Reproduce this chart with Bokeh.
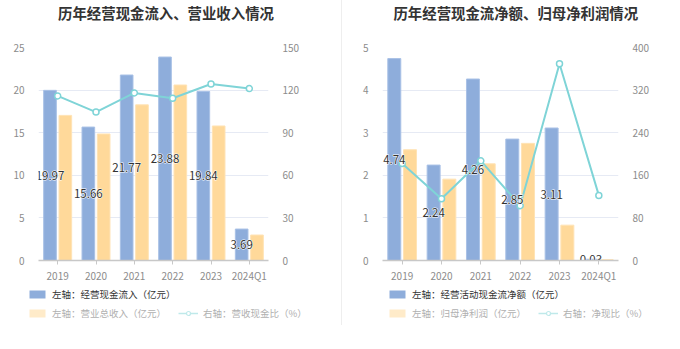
from bokeh.plotting import figure
from bokeh.models import (ColumnDataSource, FactorRange, Range1d, LinearAxis, Legend,
                          LegendItem, Div, FixedTicker, Label)
from bokeh.transform import dodge
from bokeh.layouts import row, column
from bokeh.core.properties import value
from bokeh.embed import file_html
from bokeh.resources import INLINE

periods = ["2019", "2020", "2021", "2022", "2023", "2024Q1"]

# left chart
cash_inflow = [19.97, 15.66, 21.77, 23.88, 19.84, 3.69]
total_revenue = [17.03, 14.85, 18.27, 20.60, 15.79, 2.99]
cash_revenue_ratio = [115.9, 104.5, 118.0, 114.3, 124.3, 121.1]

# right chart
op_cash_net = [4.74, 2.24, 4.26, 2.85, 3.11, 0.03]
parent_net_profit = [2.60, 1.91, 2.27, 2.75, 0.83, 0.02]
net_cash_ratio = [182.2, 116.0, 187.2, 103.0, 369.4, 122.3]

FONT = "Noto Sans CJK SC"
BLUE = "#8eaddb"
ORANGE = "#ffd99a"
TEAL = "#7fd4d7"
HH = 28   # header (title) height
CH = 257  # chart figure height
LH = 349 - HH - CH  # legend height


def blank(width, height):
    q = figure(x_range=Range1d(0, width), y_range=Range1d(0, height), width=width, height=height,
               output_backend="svg", toolbar_location=None, x_axis_type=None, y_axis_type=None,
               min_border=0, frame_align=False)
    q.outline_line_color = None
    q.grid.grid_line_color = None
    return q


def make_header(width, cx, title):
    q = blank(width, HH)
    q.add_layout(Label(x=cx, y=HH - 12, x_units="screen", y_units="screen", text=title,
                       text_font=FONT, text_font_size="14.4px", text_font_style="bold",
                       text_color="#333333", text_align="center", text_baseline="middle"))
    return q


def make_chart(blue, orange, ratio, ymax, ystep, y2max, y2step, width, bl, br):
    p = figure(x_range=FactorRange(*periods, range_padding=0), y_range=Range1d(0, ymax),
               width=width, height=CH, output_backend="svg", toolbar_location=None,
               min_border_left=bl, min_border_right=br, min_border_top=47 - HH,
               min_border_bottom=24, frame_align=False)
    p.outline_line_color = None

    p.extra_y_ranges = {"r": Range1d(0, y2max)}
    yt = [i * ystep for i in range(int(round(ymax / ystep)) + 1)]
    y2t = [i * y2step for i in range(int(round(y2max / y2step)) + 1)]
    p.xgrid.grid_line_color = None
    p.ygrid.grid_line_color = "#e6eaf4"
    p.ygrid.ticker = FixedTicker(ticks=yt)

    src = ColumnDataSource(dict(
        period=periods, blue=blue, orange=orange, ratio=ratio,
        mid=[v / 2 for v in blue], lab=["%.2f" % v for v in blue]))

    p.vbar(x=dodge("period", -0.2, range=p.x_range), top="blue", width=0.33, source=src,
           fill_color=BLUE, line_color="#a9c1e6", line_width=1)
    p.vbar(x=dodge("period", 0.2, range=p.x_range), top="orange", width=0.33, source=src,
           fill_color=ORANGE, line_color="#ffe3b5", line_width=1)
    p.line(x="period", y="ratio", source=src, y_range_name="r", line_color=TEAL, line_width=2)
    p.scatter(x="period", y="ratio", source=src, y_range_name="r", marker="circle", size=6,
              fill_color="white", line_color=TEAL, line_width=1.5)
    txt = dict(x=dodge("period", -0.2, range=p.x_range), y="mid", text="lab", source=src,
               text_align="center", text_baseline="middle", text_font=value(FONT),
               text_font_size="11.5px")
    p.text(text_color="white", text_outline_color="white", **txt)
    p.text(text_color="#333333", **txt)

    p.xaxis.axis_line_color = "#c8c8c8"
    p.xaxis.axis_line_width = 1.5
    p.xaxis.major_tick_line_color = "#c8c8c8"
    p.xaxis.major_tick_out = 4
    p.xaxis.major_tick_in = 0
    p.xaxis.major_label_standoff = 3
    p.xaxis.major_label_text_font = FONT
    p.xaxis.major_label_text_font_size = "10px"
    p.xaxis.major_label_text_color = "#8c8c8c"

    p.yaxis.ticker = FixedTicker(ticks=yt)
    ax2 = LinearAxis(y_range_name="r", ticker=FixedTicker(ticks=y2t))
    p.add_layout(ax2, "right")
    for ax in (p.yaxis[0], ax2):
        ax.axis_line_color = None
        ax.major_tick_line_color = None
        ax.minor_tick_line_color = None
        ax.major_label_standoff = 8
        ax.major_label_text_font = FONT
        ax.major_label_text_font_size = "10px"
        ax.major_label_text_color = "#8c8c8c"
    return p


def make_legend(width, lx, legend_blue, legend_orange, legend_line):
    h = LH
    q = blank(width, h)
    off = [-1000]
    d_bl = q.vbar(x=off, top=off, width=1, fill_color=BLUE, line_color=None)
    d_or = q.vbar(x=off, top=off, width=1, fill_color="#ffebc9", line_color=None)
    d_ln = q.line(x=off, y=off, line_color="#bfe9ea", line_width=1.5)
    d_sc = q.scatter(x=off, y=off, marker="circle", size=8, fill_color="white",
                     line_color="#bfe9ea", line_width=1.2)
    common = dict(orientation="horizontal", padding=0, margin=0, border_line_color=None,
                  background_fill_alpha=0, glyph_width=20, glyph_height=10, label_standoff=5,
                  label_text_font=FONT, label_text_font_size="9.5px", label_height=14, spacing=12)
    leg1 = Legend(items=[LegendItem(label=legend_blue, renderers=[d_bl])],
                  location=(lx, h - 16), label_text_color="#333333", **common)
    leg2 = Legend(items=[LegendItem(label=legend_orange, renderers=[d_or]),
                         LegendItem(label=legend_line, renderers=[d_ln, d_sc])],
                  location=(lx, h - 35), label_text_color="#b0b0b0", **common)
    q.add_layout(leg1, "center")
    q.add_layout(leg2, "center")
    return q


h1 = make_header(341, 165.5, "历年经营现金流入、营业收入情况")
h2 = make_header(338, 173.3, "历年经营现金流净额、归母净利润情况")
p1 = make_chart(cash_inflow, total_revenue, cash_revenue_ratio, 25, 5, 150, 30, 341, 38, 73)
p2 = make_chart(op_cash_net, parent_net_profit, net_cash_ratio, 5, 1, 400, 80, 338, 40, 62)
l1 = make_legend(341, 27, "左轴：经营现金流入（亿元）", "左轴：营业总收入（亿元）", "右轴：营收现金比（%）")
l2 = make_legend(338, 45, "左轴：经营活动现金流净额（亿元）", "左轴：归母净利润（亿元）", "右轴：净现比（%）")

div = Div(width=1, height=325, margin=(0, 0, 0, 0), styles={"background-color": "#eeeeee"})
layout = row(column(h1, p1, l1, spacing=0), div, column(h2, p2, l2, spacing=0), spacing=0)

open("out.html", "w").write(file_html(layout, INLINE))
